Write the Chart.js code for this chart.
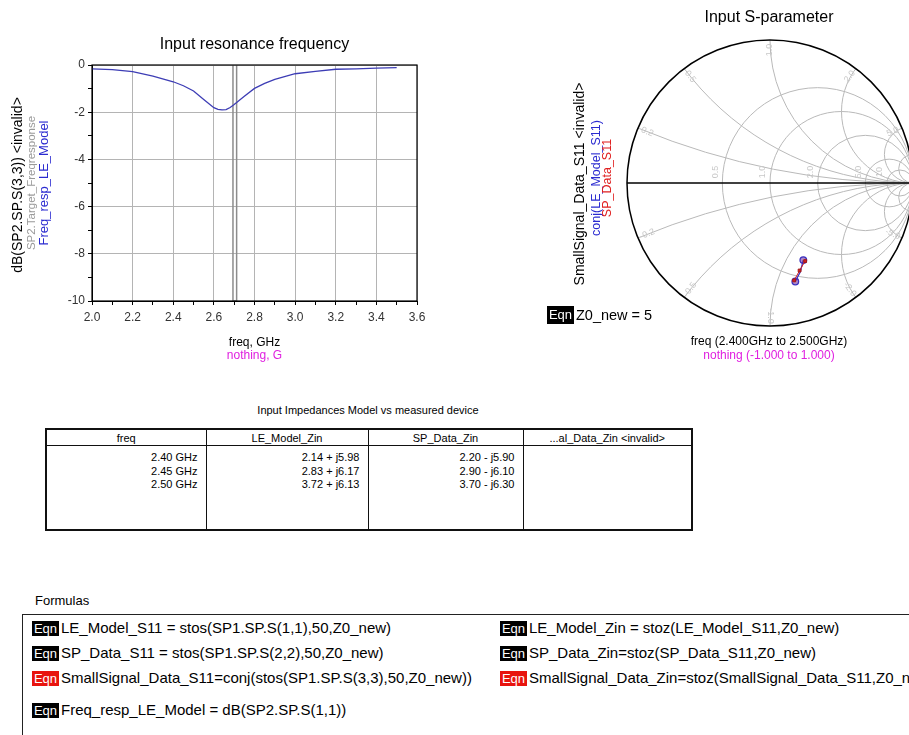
<!DOCTYPE html>
<html>
<head>
<meta charset="utf-8">
<script src="https://cdn.jsdelivr.net/npm/chart.js@4.4.1/dist/chart.umd.min.js"></script>
<style>
  html, body { margin: 0; padding: 0; background: #fff; }
  body { width: 909px; height: 735px; position: relative; overflow: hidden;
         font-family: 'Liberation Sans', Arial, sans-serif; color: #000; }
  canvas { position: absolute; }
  .abs { position: absolute; white-space: nowrap; }
  .eqn { display: inline-block; width: 27px; height: 15px; line-height: 15px; text-align: center;
         background: #000; color: #fff; font-size: 13px; margin-right: 2px; vertical-align: middle; }
  .eqn.red { background: #e8140e; }
  .formula { position: absolute; white-space: nowrap; font-size: 15px; line-height: 18px; }
  .formula span.txt { vertical-align: middle; }
  #zinTable { position: absolute; left: 45px; top: 428px; width: 646px; height: 103px;
              border-collapse: collapse; border: 2px solid #111; font-size: 11px; table-layout: fixed; }
  #zinTable th { font-weight: normal; height: 15px; padding: 0; border: 1px solid #111; text-align: center; }
  #zinTable td { border-left: 1px solid #111; border-right: 1px solid #111; vertical-align: top;
                 text-align: right; padding: 5px 8px 0 0; line-height: 13.5px; }
</style>
</head>
<body>
<canvas id="freqChart" width="440" height="370" style="left:0;top:0"></canvas>
<canvas id="smithChart" width="420" height="370" style="left:540px;top:0"></canvas>

<div class="abs" style="left:547px;top:305px;font-size:14.5px;line-height:18px">
  <span class="eqn" style="height:18px;line-height:18px">Eqn</span><span style="vertical-align:middle">Z0_new = 5</span>
</div>

<div class="abs" style="left:45px;width:646px;top:404px;text-align:center;font-size:11px">Input Impedances Model vs measured device</div>
<table id="zinTable">
  <colgroup><col style="width:160px"><col style="width:162px"><col style="width:155px"><col style="width:169px"></colgroup>
  <thead><tr id="zinHead"></tr></thead>
  <tbody><tr id="zinBody"></tr></tbody>
</table>

<div class="abs" style="left:35px;top:593px;font-size:13px">Formulas</div>
<div class="abs" style="left:22px;top:614px;width:1000px;height:200px;border:1.5px solid #222"></div>
<div class="formula" style="left:32px;top:618px"><span class="eqn">Eqn</span><span class="txt">LE_Model_S11 = stos(SP1.SP.S(1,1),50,Z0_new)</span></div>
<div class="formula" style="left:32px;top:643px"><span class="eqn">Eqn</span><span class="txt">SP_Data_S11 = stos(SP1.SP.S(2,2),50,Z0_new)</span></div>
<div class="formula" style="left:32px;top:668px"><span class="eqn red">Eqn</span><span class="txt">SmallSignal_Data_S11=conj(stos(SP1.SP.S(3,3),50,Z0_new))</span></div>
<div class="formula" style="left:32px;top:700px"><span class="eqn">Eqn</span><span class="txt">Freq_resp_LE_Model = dB(SP2.SP.S(1,1))</span></div>
<div class="formula" style="left:500px;top:618px"><span class="eqn">Eqn</span><span class="txt">LE_Model_Zin = stoz(LE_Model_S11,Z0_new)</span></div>
<div class="formula" style="left:500px;top:643px"><span class="eqn">Eqn</span><span class="txt">SP_Data_Zin=stoz(SP_Data_S11,Z0_new)</span></div>
<div class="formula" style="left:500px;top:668px"><span class="eqn red">Eqn</span><span class="txt">SmallSignal_Data_Zin=stoz(SmallSignal_Data_S11,Z0_new)</span></div>

<script>
// frequency response (dB)
const freqGHz = [2.0, 2.1, 2.2, 2.3, 2.4, 2.45, 2.5, 2.55, 2.6, 2.62, 2.64, 2.66, 2.68, 2.7,
                 2.75, 2.8, 2.85, 2.9, 3.0, 3.1, 3.2, 3.3, 3.4, 3.5];
const freqRespDb = [-0.16, -0.2, -0.28, -0.47, -0.71, -0.88, -1.10, -1.46, -1.81, -1.88, -1.90, -1.89, -1.80, -1.67,
                    -1.32, -0.99, -0.78, -0.61, -0.37, -0.27, -0.18, -0.16, -0.13, -0.11];
// gray target trace (narrow notch)
const targetFreqGHz = [2.694, 2.694, 2.712, 2.712];
const targetDb = [0, -10, -10, 0];

// smith chart points (reflection coefficient, re / im)
const leModelRe = [0.177, 0.212, 0.233];
const leModelIm = [-0.689, -0.621, -0.539];
const spDataRe = [0.169, 0.207, 0.246];
const spDataIm = [-0.681, -0.612, -0.546];
const resistanceCircles = [0.5, 1, 2, 5, 10];
const reactanceArcs = [0.2, 0.5, 1, 2, 5, 10];

// listing table
const tableHeaders = ['freq', 'LE_Model_Zin', 'SP_Data_Zin', '...al_Data_Zin <invalid>'];
const freqLabels = ['2.40 GHz', '2.45 GHz', '2.50 GHz'];
const leModelZin = ['2.14 + j5.98', '2.83 + j6.17', '3.72 + j6.13'];
const spDataZin = ['2.20 - j5.90', '2.90 - j6.10', '3.70 - j6.30'];

const FONT = "'Liberation Sans', Arial, sans-serif";

// table
tableHeaders.forEach(h => {
  const th = document.createElement('th');
  th.textContent = h;
  document.getElementById('zinHead').appendChild(th);
});
[freqLabels, leModelZin, spDataZin, []].forEach(col => {
  const td = document.createElement('td');
  td.innerHTML = col.join('<br>');
  document.getElementById('zinBody').appendChild(td);
});

// free text drawn on the canvas (page coordinates)
function textPlugin(items, offsetX) {
  return {
    id: 'pageText',
    afterDraw(chart) {
      const ctx = chart.ctx;
      items.forEach(t => {
        ctx.save();
        ctx.translate(t.x - offsetX, t.y);
        if (t.rot) ctx.rotate(t.rot);
        ctx.font = t.size + 'px ' + FONT;
        ctx.fillStyle = t.color || '#000';
        ctx.textAlign = 'center';
        ctx.textBaseline = 'middle';
        ctx.fillText(t.text, 0, 0);
        ctx.restore();
      });
    }
  };
}

const framePlugin = {
  id: 'frame',
  afterDatasetsDraw(chart) {
    const { ctx, chartArea: a } = chart;
    ctx.save();
    ctx.strokeStyle = '#000';
    ctx.lineWidth = 1.2;
    ctx.strokeRect(a.left, a.top, a.right - a.left, a.bottom - a.top);
    ctx.restore();
  }
};

const UP = -Math.PI / 2;
const leftTexts = [
  { text: 'Input resonance frequency', x: 254.5, y: 45, size: 16 },
  { text: 'dB(SP2.SP.S(3,3)) <invalid>', x: 18, y: 185, size: 14, rot: UP },
  { text: 'SP2.Target_Freqresponse', x: 32, y: 183, size: 11.5, rot: UP, color: '#9a9a9a' },
  { text: 'Freq_resp_LE_Model', x: 44.5, y: 183, size: 13, rot: UP, color: '#2b2bd0' },
  { text: 'freq, GHz', x: 254.5, y: 343, size: 12 },
  { text: 'nothing, G', x: 254.5, y: 356, size: 12, color: '#e020e0' }
];

new Chart(document.getElementById('freqChart'), {
  type: 'scatter',
  data: {
    datasets: [
      {
        label: 'Freq_resp_LE_Model',
        data: freqGHz.map((f, i) => ({ x: f, y: freqRespDb[i] })),
        showLine: true, borderColor: '#3d3db5', borderWidth: 1.3, pointRadius: 0
      },
      {
        label: 'SP2.Target_Freqresponse',
        data: targetFreqGHz.map((f, i) => ({ x: f, y: targetDb[i] })),
        showLine: true, borderColor: '#8c8c8c', borderWidth: 1.5, pointRadius: 0
      }
    ]
  },
  options: {
    responsive: false,
    animation: false,
    devicePixelRatio: 1,
    layout: { padding: { left: 52, right: 23, top: 65, bottom: 49 } },
    plugins: { legend: { display: false }, tooltip: { enabled: false } },
    scales: {
      x: {
        type: 'linear', min: 2.0, max: 3.6,
        ticks: {
          stepSize: 0.1, autoSkip: false, maxRotation: 0, padding: 5, color: '#333',
          font: { family: FONT, size: 12 },
          callback: (v, i) => (i % 2 === 0 ? Number(v).toFixed(1) : '')
        },
        grid: {
          color: c => (c.index % 2 === 0 ? '#b4b4b4' : 'rgba(0,0,0,0)'),
          tickColor: '#000', tickLength: 4
        },
        border: { color: '#000' },
        afterFit: s => { s.height = 20; }
      },
      y: {
        min: -10, max: 0,
        ticks: {
          stepSize: 1, padding: 3, color: '#333',
          font: { family: FONT, size: 12 },
          callback: v => (Math.round(v) % 2 === 0 ? String(Math.round(v)) : '')
        },
        grid: {
          color: c => (c.tick && Math.round(c.tick.value) % 2 === 0 ? '#b4b4b4' : 'rgba(0,0,0,0)'),
          tickColor: '#000', tickLength: 4
        },
        border: { color: '#000' },
        afterFit: s => { s.width = 40; }
      }
    }
  },
  plugins: [framePlugin, textPlugin(leftTexts, 0)]
});

// smith chart grid, drawn through the x/y scales (reflection coefficient plane)
const smithGrid = {
  id: 'smithGrid',
  beforeDatasetsDraw(chart) {
    const { ctx, scales: { x, y } } = chart;
    const cx = x.getPixelForValue(0), cy = y.getPixelForValue(0);
    const R = x.getPixelForValue(1) - cx;
    ctx.save();
    ctx.beginPath();
    ctx.arc(cx, cy, R, 0, Math.PI * 2);
    ctx.clip();
    ctx.strokeStyle = '#b9b9b9';
    ctx.lineWidth = 1;
    resistanceCircles.forEach(r => {
      ctx.beginPath();
      ctx.arc(x.getPixelForValue(r / (1 + r)), cy, R / (1 + r), 0, Math.PI * 2);
      ctx.stroke();
    });
    reactanceArcs.forEach(v => {
      [v, -v].forEach(s => {
        ctx.beginPath();
        ctx.arc(x.getPixelForValue(1), y.getPixelForValue(1 / s), R / v, 0, Math.PI * 2);
        ctx.stroke();
      });
    });
    ctx.restore();

    // faint grid labels
    ctx.save();
    ctx.fillStyle = '#c8c8c8';
    ctx.font = '9px ' + FONT;
    ctx.textAlign = 'center';
    ctx.textBaseline = 'middle';
    resistanceCircles.forEach(r => {
      const g = (r - 1) / (r + 1);
      ctx.save();
      ctx.translate(x.getPixelForValue(g) - 7, cy - 11);
      ctx.rotate(-Math.PI / 2);
      ctx.fillText(r < 10 ? r.toFixed(1) : String(r), 0, 0);
      ctx.restore();
    });
    reactanceArcs.slice(0, 5).forEach(v => {
      [v, -v].forEach(s => {
        const gr = (s * s - 1) / (s * s + 1), gi = 2 * s / (s * s + 1);
        let rot = -Math.atan2(gi, gr);
        if (rot > Math.PI / 2) rot -= Math.PI;
        if (rot < -Math.PI / 2) rot += Math.PI;
        ctx.save();
        ctx.translate(x.getPixelForValue(gr * 0.93), y.getPixelForValue(gi * 0.93));
        ctx.rotate(rot);
        ctx.fillText((s < 0 ? '-' : '') + v.toFixed(1), 0, 0);
        ctx.restore();
      });
    });
    ctx.restore();

    // real axis and outer rim
    ctx.save();
    ctx.strokeStyle = '#000';
    ctx.lineWidth = 1.5;
    ctx.beginPath();
    ctx.moveTo(cx - R, cy);
    ctx.lineTo(cx + R, cy);
    ctx.stroke();
    ctx.beginPath();
    ctx.arc(cx, cy, R, 0, Math.PI * 2);
    ctx.stroke();
    ctx.restore();
  }
};

const OFF = 540;
const smithTexts = [
  { text: 'Input S-parameter', x: 769, y: 18, size: 16 },
  { text: 'SmallSignal_Data_S11 <invalid>', x: 580, y: 184, size: 14, rot: UP },
  { text: 'conj(LE_Model_S11)', x: 596.5, y: 178, size: 12.5, rot: UP, color: '#2b2bd0' },
  { text: 'SP_Data_S11', x: 607.5, y: 178, size: 12.5, rot: UP, color: '#e02020' },
  { text: 'freq (2.400GHz to 2.500GHz)', x: 769, y: 342, size: 12 },
  { text: 'nothing (-1.000 to 1.000)', x: 769, y: 356, size: 12, color: '#e020e0' }
];

new Chart(document.getElementById('smithChart'), {
  type: 'scatter',
  data: {
    datasets: [
      {
        label: 'SP_Data_S11',
        data: spDataRe.map((r, i) => ({ x: r, y: spDataIm[i] })),
        showLine: true, borderColor: '#d42020', borderWidth: 1,
        pointStyle: 'rect', pointRadius: 2, backgroundColor: '#d42020', pointBorderColor: '#a01818'
      },
      {
        label: 'conj(LE_Model_S11)',
        data: leModelRe.map((r, i) => ({ x: r, y: leModelIm[i] })),
        showLine: true, borderColor: '#3a30c0', borderWidth: 1.3,
        pointStyle: 'circle', pointRadius: c => (c.dataIndex === 1 ? 0 : 3.3),
        pointBorderWidth: 1.3, backgroundColor: 'rgba(110,40,150,0.55)', pointBorderColor: '#3a30c0'
      }
    ]
  },
  options: {
    responsive: false,
    animation: false,
    devicePixelRatio: 1,
    layout: { padding: { left: 87, right: 47, top: 40, bottom: 44 } },
    plugins: { legend: { display: false }, tooltip: { enabled: false } },
    scales: {
      x: { type: 'linear', min: -1, max: 1, display: false },
      y: { type: 'linear', min: -1, max: 1, display: false }
    }
  },
  plugins: [smithGrid, textPlugin(smithTexts, OFF)]
});
</script>
</body>
</html>
